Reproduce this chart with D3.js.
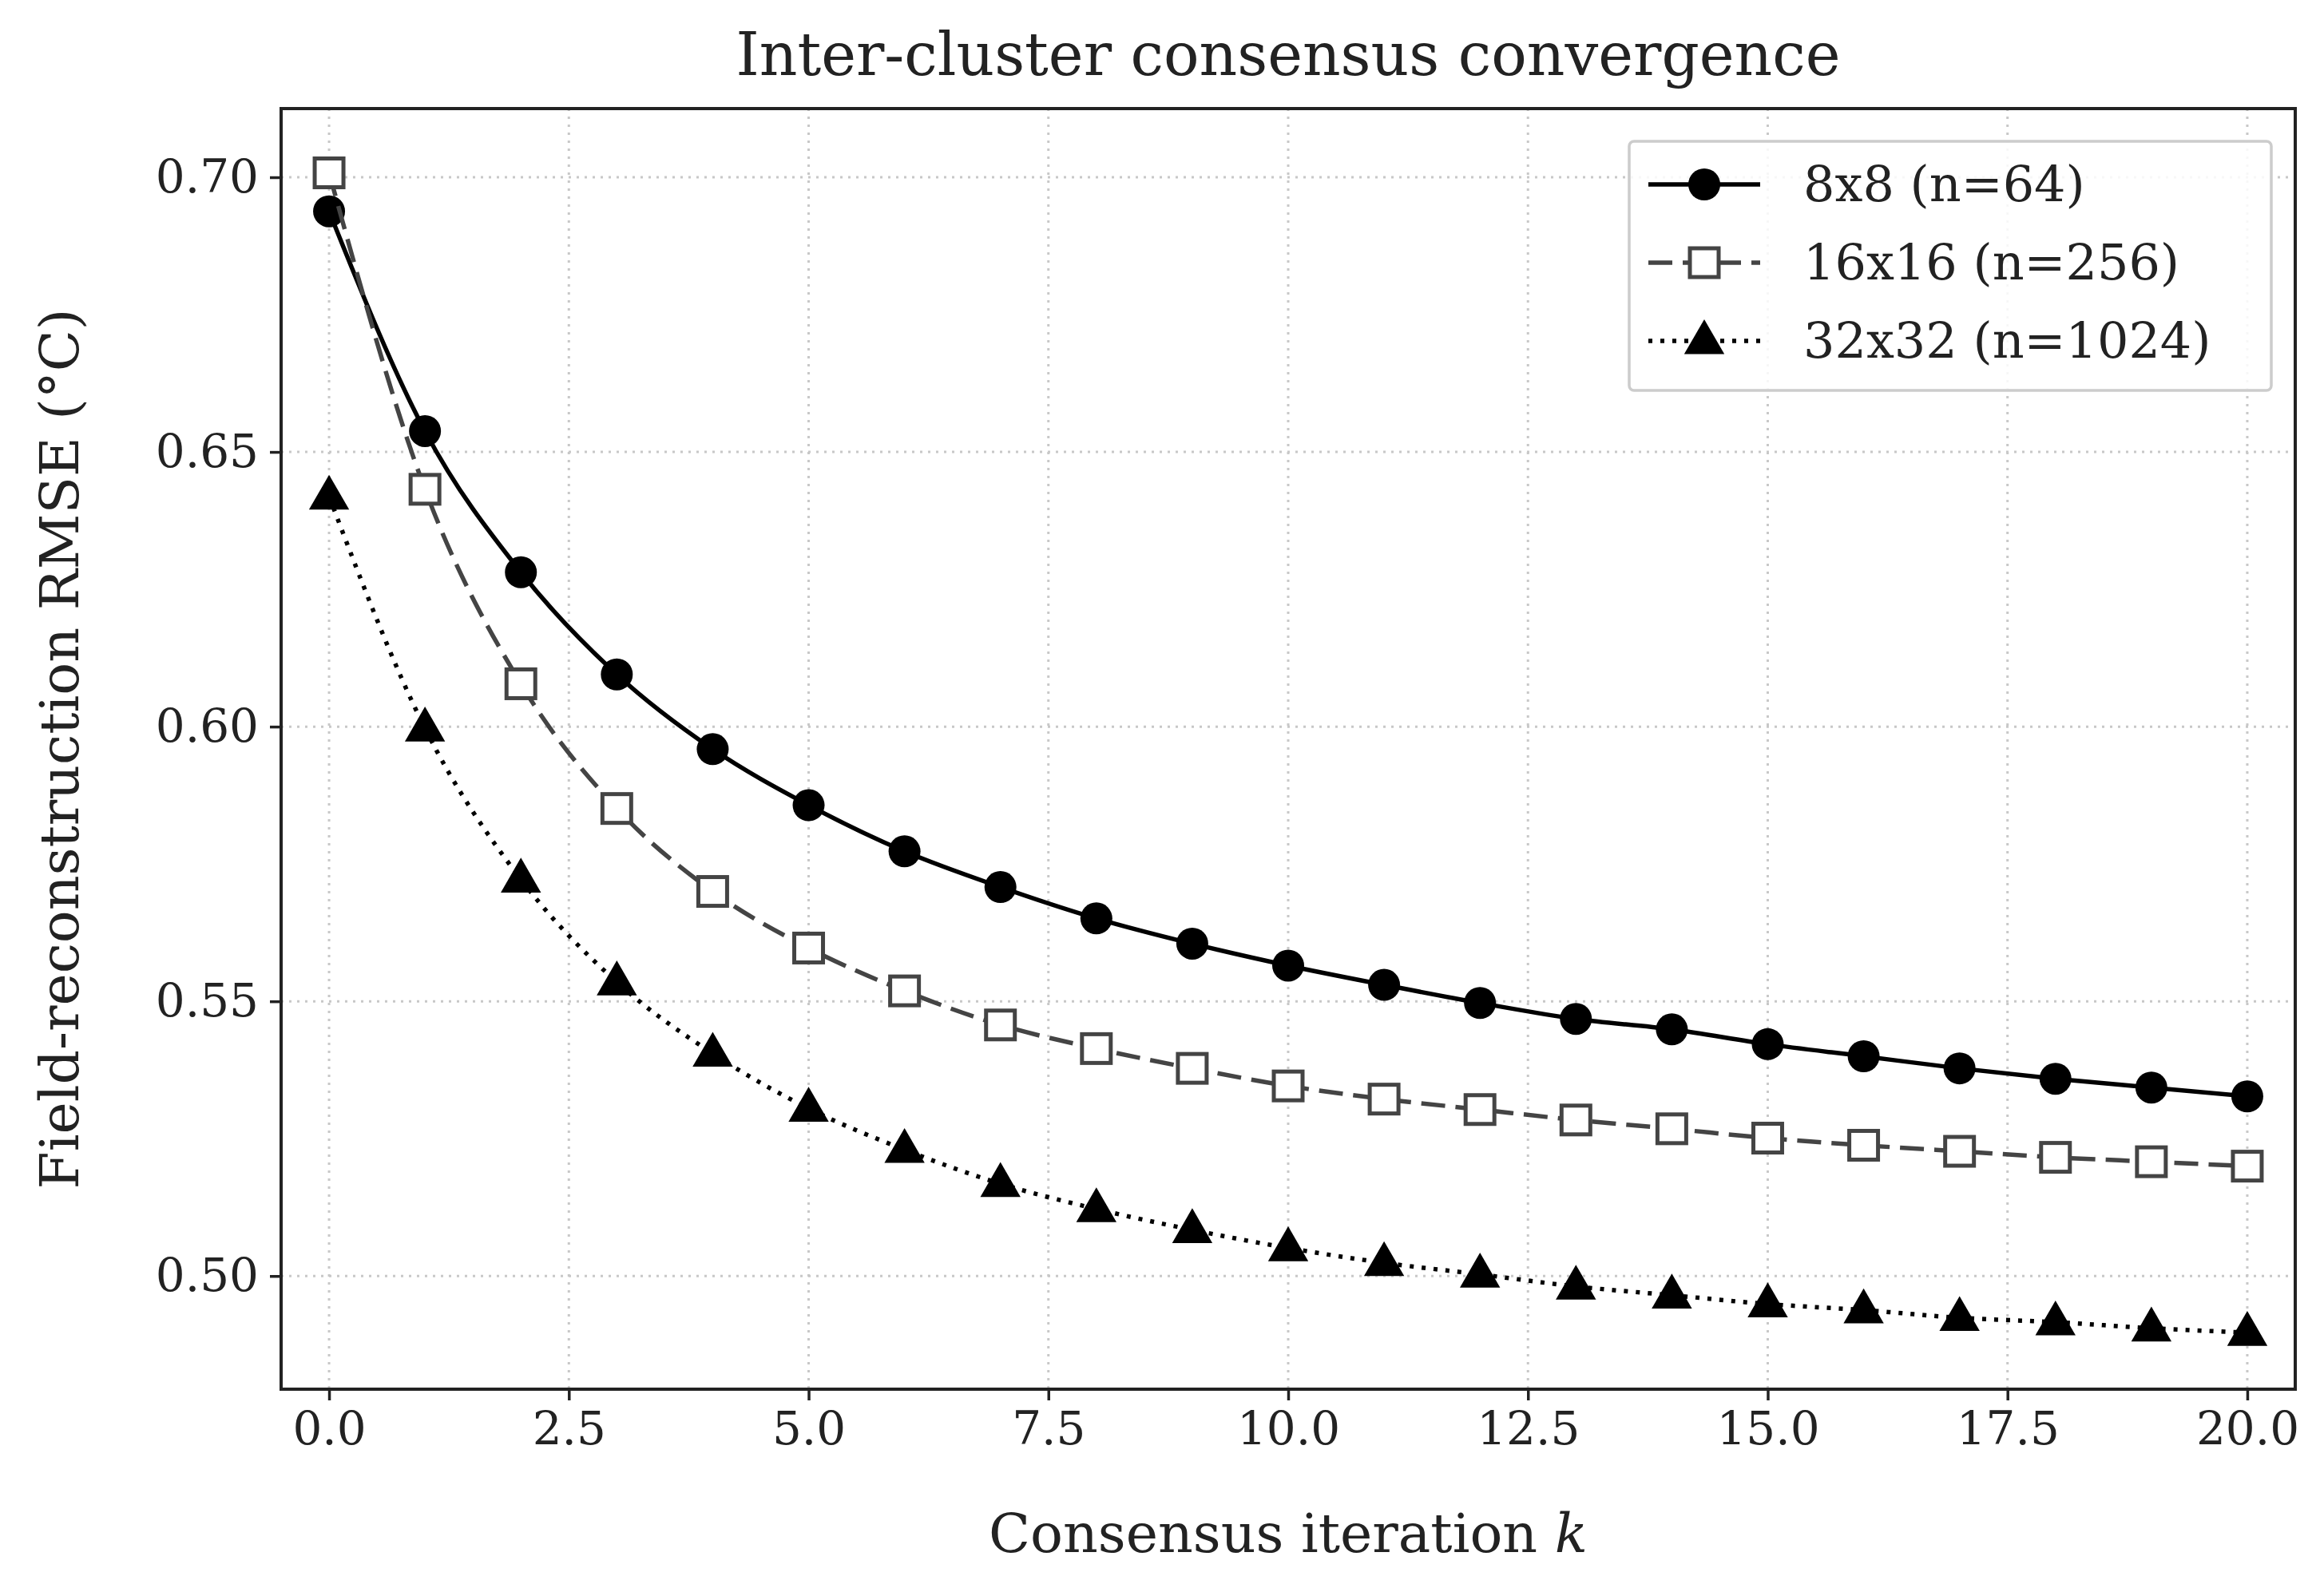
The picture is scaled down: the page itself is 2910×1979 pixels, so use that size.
<!DOCTYPE html>
<html><head><meta charset="utf-8">
<script src="https://cdn.jsdelivr.net/npm/d3@7"></script>
<style>body{margin:0;background:#fff}</style>
</head><body>
<div id="chart"></div>
<script>
// values
var iterations = d3.range(0, 21);
var rmse8 = [0.6938,0.6538,0.6281,0.6095,0.5959,0.5857,0.5773,0.5708,0.5651,0.5605,0.5565,0.5530,0.5497,0.5468,0.5449,0.5422,0.5400,0.5378,0.5359,0.5343,0.5327];
var rmse16 = [0.7008,0.6432,0.6078,0.5851,0.5700,0.5597,0.5519,0.5457,0.5414,0.5378,0.5346,0.5322,0.5303,0.5284,0.5268,0.5251,0.5238,0.5227,0.5216,0.5208,0.5200];
var rmse32 = [0.6419,0.5997,0.5722,0.5535,0.5405,0.5305,0.5230,0.5168,0.5122,0.5084,0.5051,0.5024,0.5003,0.4981,0.4965,0.4949,0.4938,0.4924,0.4916,0.4905,0.4897];
var seriesNames = ["8x8 (n=64)", "16x16 (n=256)", "32x32 (n=1024)"];
var xTicks = [0, 2.5, 5, 7.5, 10, 12.5, 15, 17.5, 20];
var yTicks = [0.50, 0.55, 0.60, 0.65, 0.70];

var W = 2910, H = 1979;
var margin = {left: 352, right: 36, top: 136, bottom: 239};
var font = "DejaVu Serif, serif";

var svg = d3.select("#chart").append("svg").attr("width", W).attr("height", H)
    .style("font-family", font);

var x = d3.scaleLinear().domain([-0.5, 20.5]).range([margin.left, W - margin.right]);
var y = d3.scaleLinear().domain([0.4794, 0.7125]).range([H - margin.bottom, margin.top]);

// grid
svg.append("g").selectAll("line").data(xTicks).enter().append("line")
    .attr("x1", function (d) { return x(d); }).attr("x2", function (d) { return x(d); })
    .attr("y1", margin.top).attr("y2", H - margin.bottom)
    .style("stroke", "#c8c8c8").style("stroke-width", 3).style("stroke-dasharray", "3,7");
svg.append("g").selectAll("line").data(yTicks).enter().append("line")
    .attr("y1", function (d) { return y(d); }).attr("y2", function (d) { return y(d); })
    .attr("x1", margin.left).attr("x2", W - margin.right)
    .style("stroke", "#c8c8c8").style("stroke-width", 3).style("stroke-dasharray", "3,7");

// axes
var xAxis = svg.append("g").attr("transform", "translate(0," + (H - margin.bottom) + ")")
    .call(d3.axisBottom(x).tickValues(xTicks).tickFormat(d3.format(".1f")).tickSize(14).tickPadding(14));
var yAxis = svg.append("g").attr("transform", "translate(" + margin.left + ",0)")
    .call(d3.axisLeft(y).tickValues(yTicks).tickFormat(d3.format(".2f")).tickSize(14).tickPadding(14));
[xAxis, yAxis].forEach(function (a) {
    a.selectAll("text").style("font-family", font).style("font-size", "58px").style("fill", "#222");
    a.selectAll("line").style("stroke", "#222").style("stroke-width", 3.5);
    a.select(".domain").remove();
});
svg.append("rect").attr("x", margin.left).attr("y", margin.top)
    .attr("width", W - margin.left - margin.right).attr("height", H - margin.top - margin.bottom)
    .style("fill", "none").style("stroke", "#222").style("stroke-width", 4);

// labels
svg.append("text").attr("x", (margin.left + W - margin.right) / 2).attr("y", 94)
    .attr("text-anchor", "middle").style("font-size", "74px").style("fill", "#222")
    .text("Inter-cluster consensus convergence");
var xl = svg.append("text").attr("x", (margin.left + W - margin.right) / 2).attr("y", 1944)
    .attr("text-anchor", "middle").style("font-size", "68px").style("fill", "#222");
xl.append("tspan").text("Consensus iteration ");
xl.append("tspan").style("font-style", "italic").text("k");
svg.append("text").attr("transform", "translate(98," + ((margin.top + H - margin.bottom) / 2) + ") rotate(-90)")
    .attr("text-anchor", "middle").style("font-size", "68px").style("fill", "#222")
    .text("Field-reconstruction RMSE (°C)");

var series = [
    {name: seriesNames[0], values: rmse8, color: "#000", dash: null, marker: "circle"},
    {name: seriesNames[1], values: rmse16, color: "#444", dash: "30,13", marker: "square"},
    {name: seriesNames[2], values: rmse32, color: "#000", dash: "5,10", marker: "triangle"}
];

function drawMarker(g, type, cx, cy, color) {
    if (type === "circle") {
        g.append("circle").attr("cx", cx).attr("cy", cy).attr("r", 20).style("fill", color);
    } else if (type === "square") {
        g.append("rect").attr("x", cx - 18).attr("y", cy - 18).attr("width", 36).attr("height", 36)
            .style("fill", "#fff").style("stroke", color).style("stroke-width", 5);
    } else {
        g.append("path").attr("d", d3.symbol().type(d3.symbolTriangle).size(1100)())
            .attr("transform", "translate(" + cx + "," + (cy + 2) + ")").style("fill", color);
    }
}

var line = d3.line().curve(d3.curveMonotoneX)
    .x(function (d, i) { return x(iterations[i]); }).y(function (d) { return y(d); });

series.forEach(function (s) {
    var g = svg.append("g");
    g.append("path").datum(s.values).attr("d", line)
        .style("fill", "none").style("stroke", s.color).style("stroke-width", 5.5)
        .style("stroke-dasharray", s.dash);
    s.values.forEach(function (v, i) { drawMarker(g, s.marker, x(iterations[i]), y(v), s.color); });
});

// legend
var lg = svg.append("g");
lg.append("rect").attr("x", 2040).attr("y", 177).attr("width", 804).attr("height", 312).attr("rx", 6)
    .style("fill", "#fff").style("fill-opacity", 0.85).style("stroke", "#ccc").style("stroke-width", 3.5);
series.forEach(function (s, i) {
    var ly = 231 + i * 98;
    lg.append("line").attr("x1", 2064).attr("x2", 2204).attr("y1", ly).attr("y2", ly)
        .style("stroke", s.color).style("stroke-width", 5.5).style("stroke-dasharray", s.dash);
    drawMarker(lg, s.marker, 2134, ly, s.color);
    lg.append("text").attr("x", 2258).attr("y", ly + 21).style("font-size", "62px").style("fill", "#222").text(s.name);
});
</script>
</body></html>
